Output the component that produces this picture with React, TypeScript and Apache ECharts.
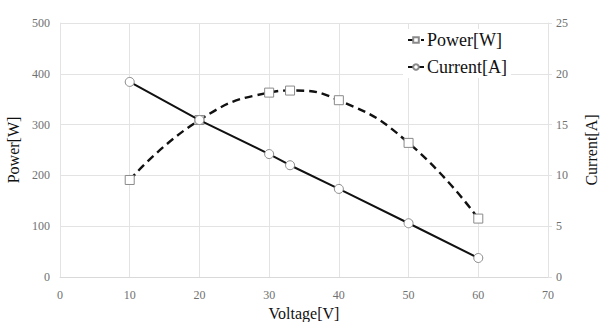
import React, { useEffect, useRef } from "react";
import * as echarts from "echarts";

const voltage = [10, 20, 30, 33, 40, 50, 60];
const power = [191, 309, 363, 367, 348, 264, 115];
const current = [19.2, 15.45, 12.1, 11.0, 8.67, 5.29, 1.87];
const xTicks = { min: 0, max: 70, interval: 10 };
const powerTicks = { min: 0, max: 500, interval: 100 };
const currentTicks = { min: 0, max: 25, interval: 5 };

const FONT = "Liberation Serif";

export default function App() {
  const ref = useRef<HTMLDivElement>(null);
  useEffect(() => {
    const chart = echarts.init(ref.current!, undefined, { renderer: "svg" });
    const axisLabel = { color: "#707070", fontFamily: FONT, fontSize: 12 };
    const splitLine = { show: true, lineStyle: { color: "#e3e3e3", width: 1 } };
    const nameStyle = { fontFamily: FONT, fontSize: 16, color: "#111" };
    chart.setOption({
      animation: false,
      backgroundColor: "#ffffff",
      grid: {
        left: 60,
        right: 53,
        top: 23,
        bottom: 45,
        containLabel: false,
        outerBoundsMode: "none",
      },
      legend: {
        left: 403,
        top: 29,
        orient: "vertical",
        backgroundColor: "#ffffff",
        itemGap: 9,
        itemWidth: 16,
        itemHeight: 7,
        padding: [2, 4, 2, 4],
        textStyle: { fontFamily: FONT, fontSize: 18, color: "#111", padding: [0, 0, 0, -2] },
        data: ["Power[W]", "Current[A]"],
      },
      xAxis: {
        type: "value",
        ...xTicks,
        name: "Voltage[V]",
        nameLocation: "middle",
        nameGap: 27,
        nameTextStyle: nameStyle,
        axisLine: { show: true, lineStyle: { color: "#d9d9d9" } },
        axisTick: { show: false },
        axisLabel: { ...axisLabel, margin: 12 },
        splitLine,
      },
      yAxis: [
        {
          type: "value",
          ...powerTicks,
          name: "Power[W]",
          nameLocation: "middle",
          nameGap: 35,
          nameTextStyle: nameStyle,
          axisLine: { show: true, lineStyle: { color: "#e3e3e3" } },
          axisTick: { show: false },
          axisLabel: { ...axisLabel, margin: 10 },
          splitLine,
        },
        {
          type: "value",
          ...currentTicks,
          position: "right",
          name: "Current[A]",
          nameLocation: "middle",
          nameGap: 35,
          nameRotate: 90,
          nameTextStyle: nameStyle,
          axisLine: { show: true, lineStyle: { color: "#e3e3e3" } },
          axisTick: { show: true, length: 4, lineStyle: { color: "#e3e3e3" } },
          axisLabel: { ...axisLabel, margin: 8 },
          splitLine: { show: false },
        },
      ],
      series: [
        {
          name: "Power[W]",
          type: "line",
          yAxisIndex: 0,
          smooth: true,
          data: voltage.map((v, i) => [v, power[i]]),
          symbol: "rect",
          symbolSize: 9,
          z: 3,
          lineStyle: { color: "#111", width: 2.4, type: [8, 5] },
          itemStyle: { color: "#ffffff", borderColor: "#8a8a8a", borderWidth: 1 },
        },
        {
          name: "Current[A]",
          type: "line",
          yAxisIndex: 1,
          data: voltage.map((v, i) => [v, current[i]]),
          symbol: "circle",
          symbolSize: 9,
          z: 4,
          lineStyle: { color: "#111", width: 2 },
          itemStyle: { color: "#ffffff", borderColor: "#8a8a8a", borderWidth: 1 },
        },
      ],
    });
    return () => chart.dispose();
  }, []);
  return <div ref={ref} style={{ width: 601, height: 322, position: "absolute", left: 0, top: 0 }} />;
}
